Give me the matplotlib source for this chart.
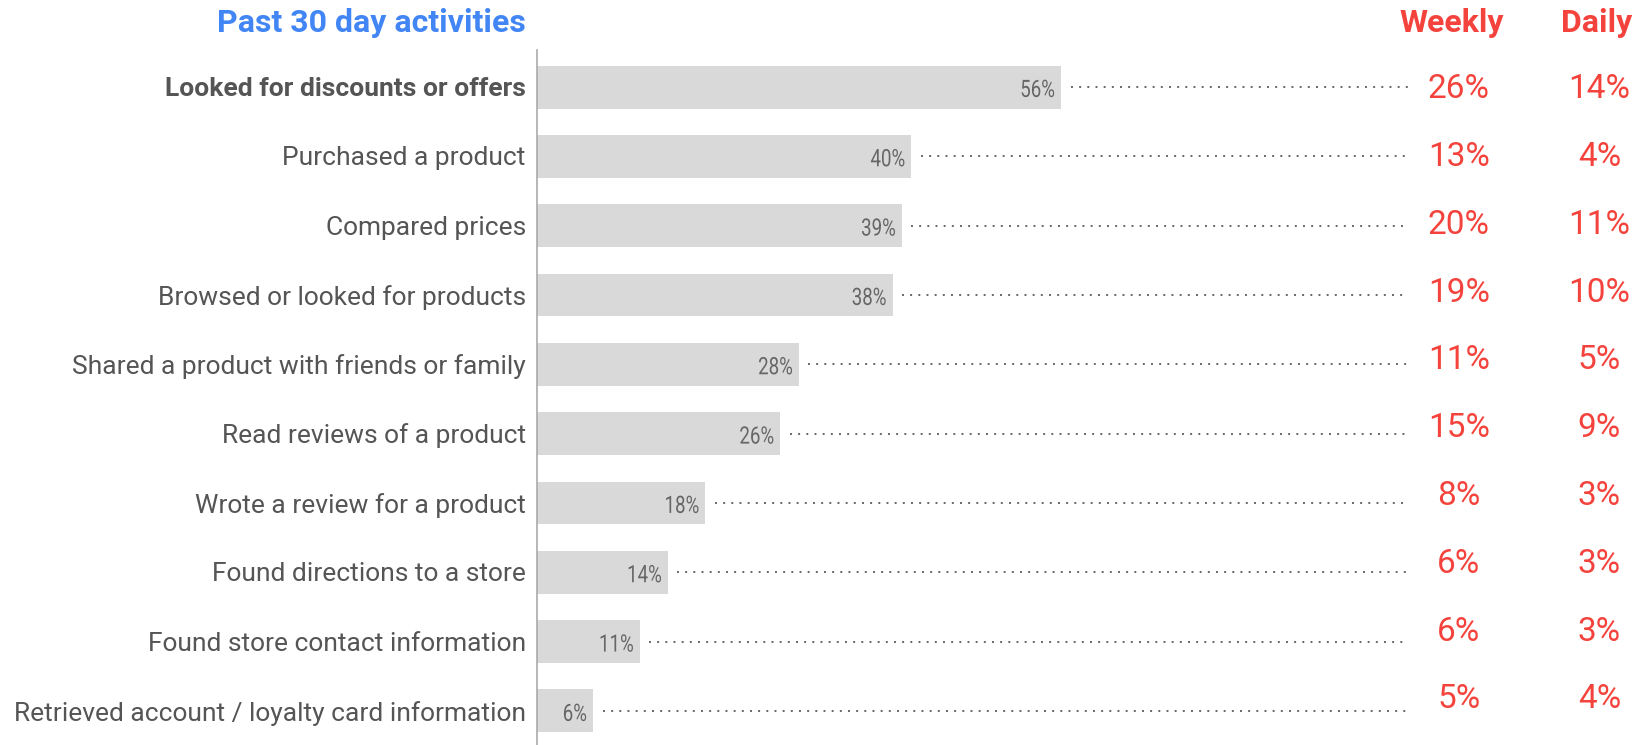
import matplotlib.pyplot as plt
from matplotlib.textpath import TextPath
from matplotlib.patches import PathPatch
from matplotlib.transforms import Affine2D
from matplotlib.font_manager import FontProperties

plt.rcParams['font.family'] = ['Roboto', 'DejaVu Sans']

activities = [
    "Looked for discounts or offers",
    "Purchased a product",
    "Compared prices",
    "Browsed or looked for products",
    "Shared a product with friends or family",
    "Read reviews of a product",
    "Wrote a review for a product",
    "Found directions to a store",
    "Found store contact information",
    "Retrieved account / loyalty card information",
]
past_30_days = [56, 40, 39, 38, 28, 26, 18, 14, 11, 6]
weekly = [26, 13, 20, 19, 11, 15, 8, 6, 6, 5]
daily = [14, 4, 11, 10, 5, 9, 3, 3, 3, 4]

BLUE = '#4285F4'
RED = '#F4433C'
BAR = '#D9D9D9'

W, H = 1638, 745
fig = plt.figure(figsize=(W / 100, H / 100), dpi=100)
ax = fig.add_axes([537 / W, 0, 1 - 537 / W, 695 / H])
ax.set_xlim(0, (W - 537) / 9.36)
ax.set_ylim(9 + 34 / 69.3, -37 / 69.3)

rows = list(range(len(activities)))
ax.barh(rows, past_30_days, height=0.62, color=BAR, edgecolor='none')


def narrow_label(x, y, s, size=24, squeeze=0.78, color='#666666'):
    # right-aligned, horizontally squeezed text drawn as a path (pixel units)
    tp = TextPath((0, 0), s, size=size, prop=FontProperties(family='Roboto'))
    bb = tp.get_extents()
    px, py = ax.transData.transform((x, y))
    tr = (Affine2D().translate(-bb.x1, -(bb.y0 + bb.y1) / 2)
          .scale(squeeze, 1).translate(px, py))
    fig.add_artist(PathPatch(tp, transform=tr, facecolor=color,
                             edgecolor='none'))


x_weekly, x_daily, x_dots_end = 98.5, 113.5, 93.1
for i, (name, v, w, d) in enumerate(zip(activities, past_30_days, weekly, daily)):
    ax.text(-1.2, i + 0.03, name, ha='right', va='center', fontsize=19,
            color='#555555', fontweight='bold' if i == 0 else 'normal')
    narrow_label(v - 0.75, i + 0.02, f"{v}%")
    ax.plot([v + 1.0, x_dots_end], [i, i], color='#666666', lw=1.4,
            linestyle=(0, (1, 3.2)))
    yt = i * 0.978 + 0.03
    ax.text(x_weekly, yt, f"{w}%", ha='center', va='center', fontsize=24, color=RED)
    ax.text(x_daily, yt, f"{d}%", ha='center', va='center', fontsize=24, color=RED)

for side in ['top', 'right', 'bottom']:
    ax.spines[side].set_visible(False)
ax.spines['left'].set_color('#AAAAAA')
ax.spines['left'].set_linewidth(1.2)
ax.set_xticks([])
ax.set_yticks([])

fig.text(526 / W, 1 - 23 / H, "Past 30 day activities", ha='right', va='center',
         fontsize=23, fontweight='bold', color=BLUE)
fig.text(1452 / W, 1 - 23 / H, "Weekly", ha='center', va='center',
         fontsize=23, fontweight='bold', color=RED)
fig.text(1597 / W, 1 - 23 / H, "Daily", ha='center', va='center',
         fontsize=23, fontweight='bold', color=RED)

fig.savefig('out.png', dpi=100)
